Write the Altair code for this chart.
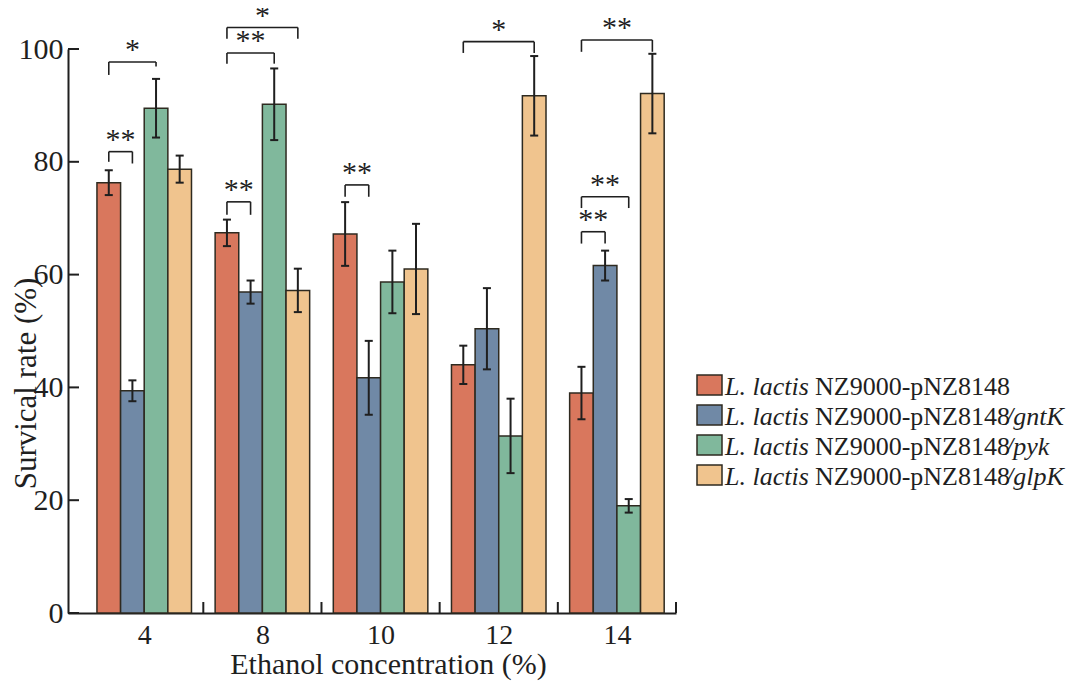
import json
import altair as alt
import pandas as pd

# ---------------- data ----------------
concentrations = ["4", "8", "10", "12", "14"]
strains = ["NZ9000-pNZ8148", "NZ9000-pNZ8148/gntK", "NZ9000-pNZ8148/pyk", "NZ9000-pNZ8148/glpK"]
prefixes = ["L. lactis"] * 4
plasmids = ["NZ9000-pNZ8148"] * 4
suffixes = ["", "/gntK", "/pyk", "/glpK"]
colors = ["#D9775D", "#7089A6", "#80B89C", "#F0C48E"]

control_mean = [76.3, 67.4, 67.2, 44.0, 39.0]
control_err = [2.2, 2.35, 5.65, 3.4, 4.65]
gntK_mean = [39.4, 56.9, 41.7, 50.4, 61.6]
gntK_err = [1.85, 2.05, 6.55, 7.2, 2.65]
pyk_mean = [89.5, 90.2, 58.7, 31.4, 19.0]
pyk_err = [5.2, 6.35, 5.55, 6.6, 1.2]
glpK_mean = [78.7, 57.2, 61.0, 91.7, 92.1]
glpK_err = [2.4, 3.85, 8.0, 7.05, 7.05]

y_ticks = [0, 20, 40, 60, 80, 100]

# significance brackets: group index, from-series, to-series, top, leg ends, label
br_group = [0, 0, 1, 1, 1, 2, 3, 4, 4, 4]
br_from = [0, 0, 0, 0, 0, 0, 0, 0, 0, 0]
br_to = [2, 1, 3, 2, 1, 1, 3, 3, 2, 1]
br_top = [97.7, 81.8, 103.8, 99.3, 72.9, 75.9, 101.3, 101.6, 73.8, 67.6]
br_left_end = [95.4, 80.0, 101.8, 97.4, 70.6, 73.8, 99.3, 99.5, 71.8, 65.5]
br_right_end = [96.9, 79.7, 101.8, 97.4, 70.6, 73.8, 99.3, 99.5, 71.8, 65.5]
br_label = ["*", "**", "*", "**", "**", "**", "*", "**", "**", "**"]

# ---------------- tables ----------------
means = [control_mean, gntK_mean, pyk_mean, glpK_mean]
errs = [control_err, gntK_err, pyk_err, glpK_err]
rows = []
for gi, c in enumerate(concentrations):
    for si in range(len(strains)):
        rows.append(dict(conc=c, gi=gi, si=si, strain=strains[si],
                         mean=means[si][gi], err=errs[si][gi]))
df = pd.DataFrame(rows)

br_df = pd.DataFrame(dict(g=br_group, a=br_from, b=br_to, top=br_top,
                          lend=br_left_end, rend=br_right_end, label=br_label))
xt_df = pd.DataFrame(dict(b=[i + 0.5 for i in range(len(concentrations))]))
yt_df = pd.DataFrame(dict(v=y_ticks))
leg_df = pd.DataFrame(dict(strain=strains, prefix=prefixes, mid=plasmids, suffix=suffixes))

# ---------------- styling ----------------
W, H = 608, 564
BW = 0.2
CAP = 0.034
FONT = "Liberation Serif"
INK = "#1f1f1f"
EDGE = "#2e2a20"

xscale = alt.Scale(domain=[-0.645, 4.5], nice=False, zero=False)
yscale = alt.Scale(domain=[0, 100], nice=False, zero=True)
cscale = alt.Scale(domain=strains, range=colors)

xaxis = alt.Axis(
    values=list(range(len(concentrations))),
    labelExpr=json.dumps(concentrations) + "[datum.value]",
    title="Ethanol concentration (%)",
    grid=False, ticks=True, tickSize=0, domainColor=INK, domainWidth=2,
    labelFont=FONT, labelFontSize=28, labelColor=INK, labelPadding=30,
    labelBaseline="alphabetic", labelFlush=False, labelOverlap=False,
    titleFont=FONT, titleFontSize=30, titleFontWeight="normal", titleColor=INK,
    titleX=320, titleY=60, titleBaseline="alphabetic", titleAlign="center",
)
yaxis = alt.Axis(
    values=y_ticks, title="Survical rate (%)",
    grid=False, ticks=True, tickSize=0, domainColor=INK, domainWidth=2,
    labelFont=FONT, labelFontSize=30, labelColor=INK, labelPadding=5,
    labelFlush=False,
    titleFont=FONT, titleFontSize=31, titleFontWeight="normal", titleColor=INK,
    titleAngle=270, titleX=-33, titleY=334, titleBaseline="alphabetic", titleAlign="center",
)

base = alt.Chart(df).transform_calculate(
    xc=f"datum.gi + (datum.si - 1.5) * {BW}",
    x1=f"datum.gi + (datum.si - 2) * {BW}",
    x2=f"datum.gi + (datum.si - 1) * {BW}",
    cl=f"datum.gi + (datum.si - 1.5) * {BW} - {CAP}",
    cr=f"datum.gi + (datum.si - 1.5) * {BW} + {CAP}",
    lo="datum.mean - datum.err",
    hi="datum.mean + datum.err",
    zero="0",
)

bars = base.mark_bar(stroke=EDGE, strokeWidth=1.5, opacity=1).encode(
    x=alt.X("x1:Q", scale=xscale, axis=xaxis),
    x2="x2:Q",
    y=alt.Y("mean:Q", scale=yscale, axis=yaxis),
    y2="zero:Q",
    color=alt.Color("strain:N", scale=cscale, legend=None),
)
err_v = base.mark_rule(color=INK, strokeWidth=2).encode(
    x=alt.X("xc:Q", scale=xscale), y=alt.Y("lo:Q", scale=yscale), y2="hi:Q")
cap_hi = base.mark_rule(color=INK, strokeWidth=2).encode(
    x=alt.X("cl:Q", scale=xscale), x2="cr:Q", y=alt.Y("hi:Q", scale=yscale))
cap_lo = base.mark_rule(color=INK, strokeWidth=2).encode(
    x=alt.X("cl:Q", scale=xscale), x2="cr:Q", y=alt.Y("lo:Q", scale=yscale))

xticks = alt.Chart(xt_df).mark_rule(color=INK, strokeWidth=2).encode(
    x=alt.X("b:Q", scale=xscale), y=alt.value(H), y2=alt.value(H - 11))
yticks = alt.Chart(yt_df).mark_rule(color=INK, strokeWidth=2).encode(
    x=alt.value(0), x2=alt.value(11), y=alt.Y("v:Q", scale=yscale))

br = alt.Chart(br_df).transform_calculate(
    xa=f"datum.g + (datum.a - 1.5) * {BW}",
    xb=f"datum.g + (datum.b - 1.5) * {BW}",
    xm=f"datum.g + (datum.a + datum.b - 3) * {BW} / 2",
)
br_h = br.mark_rule(color=INK, strokeWidth=1.6).encode(
    x=alt.X("xa:Q", scale=xscale), x2="xb:Q", y=alt.Y("top:Q", scale=yscale))
br_l = br.mark_rule(color=INK, strokeWidth=1.6).encode(
    x=alt.X("xa:Q", scale=xscale), y=alt.Y("lend:Q", scale=yscale), y2="top:Q")
br_r = br.mark_rule(color=INK, strokeWidth=1.6).encode(
    x=alt.X("xb:Q", scale=xscale), y=alt.Y("rend:Q", scale=yscale), y2="top:Q")
br_t = br.mark_text(font=FONT, fontSize=30, color=INK, baseline="alphabetic",
                    align="center", dy=-3).encode(
    x=alt.X("xm:Q", scale=xscale), y=alt.Y("top:Q", scale=yscale), text="label:N")

main = alt.layer(bars, err_v, cap_hi, cap_lo, xticks, yticks, br_h, br_l, br_r, br_t)

# ---------------- legend ----------------
ylegend = alt.Y("strain:N", scale=alt.Scale(type="point", domain=strains,
                                            range=[336, 426], padding=0), axis=None)
lg = alt.Chart(leg_df)
swatch = lg.mark_point(shape="M-1.25,-1H1.25V1H-1.25Z", filled=True, size=400,
                       stroke=EDGE, strokeWidth=1.5, opacity=1).encode(
    x=alt.value(641.5), y=ylegend,
    color=alt.Color("strain:N", scale=cscale, legend=None))
t1 = lg.mark_text(font=FONT, fontSize=26, fontStyle="italic", color=INK,
                  align="left", baseline="alphabetic", dy=10).encode(
    x=alt.value(657), y=ylegend, text="prefix:N")
t2 = lg.mark_text(font=FONT, fontSize=26, color=INK,
                  align="left", baseline="alphabetic", dy=10).encode(
    x=alt.value(747), y=ylegend, text="mid:N")
t3 = lg.mark_text(font=FONT, fontSize=26, fontStyle="italic", color=INK,
                  align="left", baseline="alphabetic", dy=10).encode(
    x=alt.value(938), y=ylegend, text="suffix:N")
legend = alt.layer(swatch, t1, t2, t3)

chart = alt.layer(main, legend).resolve_scale(y="independent").properties(
    width=W, height=H,
    autosize=alt.AutoSizeParams(type="none"),
    padding={"left": 60, "top": 41, "right": 396, "bottom": 68},
    background="white",
).configure_view(stroke=None)

chart.save("out.html", embed_options={"renderer": "svg", "actions": False})
